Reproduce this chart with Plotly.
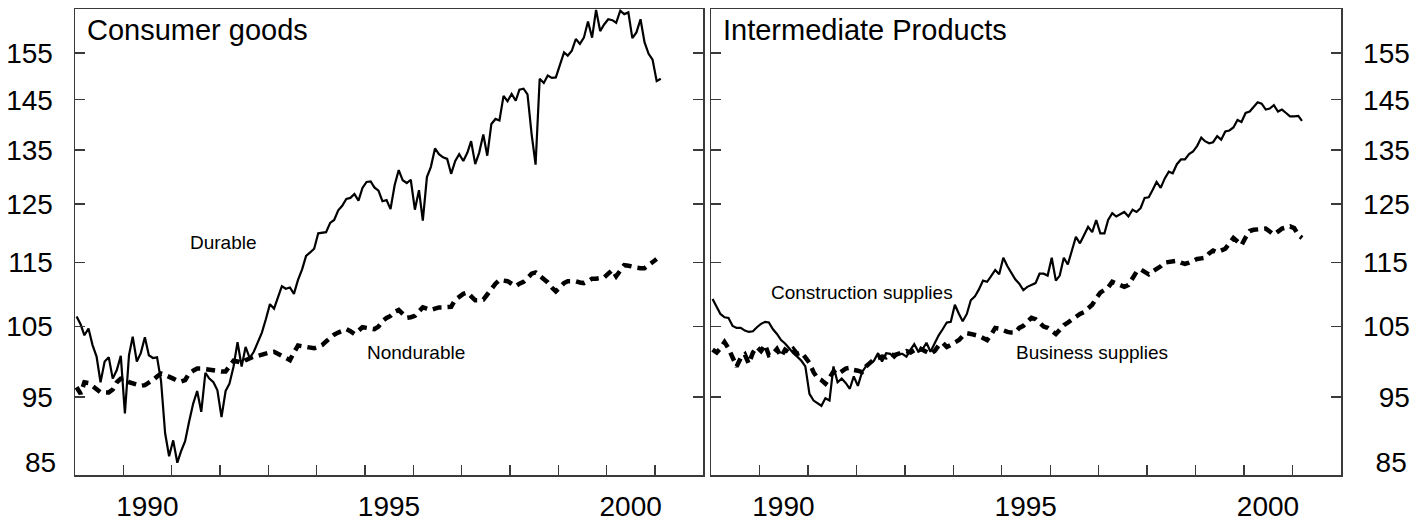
import math
import pandas as pd
import plotly.graph_objects as go

# ---------------- data (monthly index, Jan 1989 onward) ----------------
START = "1989-01-01"

durable = [
    106.5, 105.3, 103.7, 104.7, 102.3, 100.6, 97.0, 99.9, 100.5, 97.5,
    98.7, 100.7, 92.8, 100.8, 103.5, 99.9, 101.1, 103.4, 100.8, 100.4,
    100.5, 97.2, 90.2, 87.3, 89.3, 86.5, 87.9, 89.2, 91.7, 94.1,
    95.8, 93.0, 98.3, 97.5, 97.0, 95.9, 92.3, 95.8, 96.8, 99.2,
    102.7, 99.2, 102.0, 100.4, 101.3, 102.7, 104.1, 106.1, 108.4, 107.7,
    109.2, 111.2, 110.8, 111.0, 110.0, 112.2, 113.9, 116.1, 116.7, 117.3,
    119.9, 120.0, 120.1, 121.7, 122.2, 123.9, 124.7, 125.9, 126.1, 126.8,
    125.6, 127.9, 129.0, 129.1, 128.0, 127.4, 125.5, 125.7, 124.1, 128.4,
    131.2, 129.3, 128.8, 129.4, 124.0, 127.5, 122.1, 129.9, 131.8, 135.3,
    134.2, 133.6, 133.3, 130.5, 132.9, 134.2, 132.9, 134.5, 136.7, 132.3,
    134.5, 138.0, 133.9, 140.1, 141.1, 140.8, 145.8, 144.7, 146.2, 144.8,
    147.1, 147.3, 146.1, 138.1, 132.2, 149.4, 148.5, 150.1, 149.6, 149.7,
    152.3, 155.1, 154.4, 155.5, 158.1, 157.0, 158.4, 162.1, 158.4, 164.8,
    159.9, 161.4, 162.6, 162.4, 161.8, 164.6, 163.8, 164.2, 158.3, 159.6,
    162.6, 157.4, 154.8, 153.5, 148.9, 149.4,
]

nondurable = [
    96.3, 95.4, 97.0, 96.9, 96.5, 96.0, 95.6, 95.6, 95.6, 96.0,
    97.0, 97.5, 97.6, 97.0, 96.8, 96.6, 96.5, 96.6, 96.9, 97.3,
    97.8, 98.2, 98.0, 97.8, 97.5, 97.2, 97.1, 97.3, 98.2, 98.6,
    98.9, 98.9, 98.8, 98.7, 98.6, 98.5, 98.5, 98.5, 99.2, 100.0,
    99.9, 99.7, 100.1, 100.4, 100.6, 100.7, 100.9, 101.1, 101.2, 101.3,
    101.0, 100.7, 100.4, 100.1, 101.2, 102.2, 102.1, 102.0, 101.9, 101.8,
    102.0, 102.3, 102.8, 103.4, 103.8, 104.1, 104.4, 104.6, 104.3, 103.9,
    104.4, 104.9, 104.8, 104.7, 104.6, 105.0, 105.8, 106.3, 106.6, 107.2,
    107.5, 106.9, 106.3, 106.4, 106.6, 107.3, 107.9, 107.7, 107.5, 107.7,
    107.9, 107.9, 107.9, 108.0, 109.1, 109.6, 110.0, 110.2, 109.5, 109.0,
    109.0, 109.1, 109.9, 110.8, 111.6, 112.2, 112.1, 112.0, 111.6, 111.2,
    111.6, 111.9, 112.5, 113.2, 113.4, 112.9, 112.4, 111.8, 111.0, 110.4,
    111.0, 111.7, 112.0, 112.0, 112.0, 111.8, 111.7, 112.0, 112.4, 112.4,
    112.5, 112.6, 113.2, 113.8, 112.8, 113.6, 114.6, 114.5, 114.3, 114.2,
    114.1, 114.1, 114.6, 115.2, 115.6,
]

construction = [
    109.2, 108.0, 106.9, 106.4, 106.3, 105.1, 104.8, 104.8, 104.4, 104.2,
    104.3, 104.9, 105.4, 105.7, 105.6, 104.6, 103.9, 103.0, 102.5, 101.8,
    101.1, 100.6, 100.0, 99.2, 95.4, 94.5, 94.2, 93.8, 94.8, 94.5,
    99.2, 97.0, 97.5, 96.9, 96.1, 97.8, 96.5, 98.4, 99.2, 99.6,
    100.0, 101.1, 99.9, 101.1, 101.0, 100.4, 101.0, 101.0, 100.6, 101.6,
    102.4, 101.3, 101.6, 102.6, 101.3, 102.5, 103.7, 104.6, 105.6, 105.7,
    108.3, 106.9, 105.8, 106.9, 109.0, 109.6, 110.7, 112.1, 111.9, 112.8,
    113.8, 113.1, 115.8, 114.4, 113.3, 112.3, 111.6, 110.6, 111.1, 111.4,
    111.7, 113.2, 113.2, 112.9, 115.8, 112.1, 112.9, 115.8, 114.7, 117.0,
    119.3, 118.2, 119.6, 121.0, 120.1, 122.2, 119.9, 119.9, 122.2, 123.4,
    122.8, 123.2, 123.6, 122.8, 124.0, 123.6, 124.3, 126.1, 126.2, 127.6,
    129.0, 127.9, 129.6, 130.9, 130.6, 132.3, 133.2, 133.2, 134.2, 134.7,
    135.8, 137.4, 136.7, 136.3, 136.5, 137.7, 137.0, 138.6, 138.8, 139.4,
    140.9, 140.5, 142.3, 142.6, 143.5, 144.5, 144.2, 143.0, 143.2, 143.9,
    142.6, 143.0, 142.3, 141.6, 141.6, 141.7, 140.7,
]

business = [
    101.6, 101.2, 101.8, 102.7, 101.8, 100.6, 99.2, 100.4, 100.9, 99.6,
    101.2, 102.0, 101.4, 102.3, 100.8, 101.0, 101.7, 100.6, 101.6, 101.2,
    101.7, 101.0, 101.2, 100.5, 99.7, 98.4, 97.6, 97.3, 96.8, 97.6,
    98.5, 98.1, 98.6, 98.9, 99.0, 98.7, 98.6, 98.4, 99.2, 99.8,
    100.2, 100.4, 100.6, 100.5, 100.9, 100.8, 101.0, 101.3, 101.4, 101.2,
    101.6, 101.9, 101.6, 101.3, 101.0, 101.4, 102.2, 102.6, 102.0, 102.3,
    102.7, 103.0, 103.6, 104.0, 103.9, 103.8, 103.6, 103.3, 103.0, 103.8,
    104.8, 104.7, 104.4, 104.2, 104.1, 104.1, 104.8, 105.1, 105.7, 106.3,
    106.1, 105.5, 105.0, 104.8, 104.3, 103.9, 104.5, 105.2, 105.6, 106.1,
    106.6, 106.9, 107.2, 107.7, 108.3, 109.3, 110.2, 110.6, 111.0, 111.9,
    111.6, 111.3, 111.1, 111.4, 112.5, 113.5, 113.9, 113.6, 113.1, 113.6,
    113.9, 114.4, 115.0, 115.1, 115.2, 115.3, 115.0, 114.8, 115.0, 115.3,
    115.6, 115.7, 115.8, 116.5, 117.0, 116.7, 117.0, 117.3, 118.2, 119.1,
    118.5, 117.9, 119.2, 120.3, 120.5, 120.6, 120.7, 120.7, 120.2, 119.7,
    120.2, 120.7, 120.9, 121.1, 120.8, 119.6, 119.1,
]

tick_years = list(range(1990, 2002))
labelled_years = [1990, 1995, 2000]
ytick_values = [85, 95, 105, 115, 125, 135, 145, 155, 165]
ytick_text = ["", "95", "105", "115", "125", "135", "145", "155", ""]
panel_titles = ["Consumer goods", "Intermediate Products"]
series_names = ["Durable", "Nondurable", "Construction supplies", "Business supplies"]

NBSP2 = "\u00a0\u00a0"  # two spaces = width of one digit -> right-aligned labels


def months(n):
    d = pd.date_range(START, periods=n, freq="MS") + pd.Timedelta(days=12)
    return [x.strftime("%Y-%m-%d") for x in d]


def right_aligned(labels):
    return [(NBSP2 + t) if len(t) == 2 else t for t in labels]


FONT = "Liberation Sans, Arial, sans-serif"
AX = "#3a3a3a"
SOLID = dict(color="black", width=2.2)
DASHED = dict(color="black", width=4.5, dash="9px,6px")

fig = go.Figure()
fig.add_trace(go.Scatter(x=months(len(durable)), y=durable, mode="lines",
                         line=SOLID, name=series_names[0], xaxis="x", yaxis="y"))
fig.add_trace(go.Scatter(x=months(len(nondurable)), y=nondurable, mode="lines",
                         line=DASHED, name=series_names[1], xaxis="x", yaxis="y"))
fig.add_trace(go.Scatter(x=months(len(construction)), y=construction, mode="lines",
                         line=SOLID, name=series_names[2], xaxis="x2", yaxis="y2"))
fig.add_trace(go.Scatter(x=months(len(business)), y=business, mode="lines",
                         line=DASHED, name=series_names[3], xaxis="x2", yaxis="y2"))

W, H = 1424, 523
ML, MR, MT, MB = 75, 83, 9, 48
plot_w = W - ML - MR
left_dom = [0, 628.4 / plot_w]
right_dom = [636.0 / plot_w, 1]

xcommon = dict(
    type="date", range=["1989-01-01", "2002-01-01"], automargin=False,
    tickmode="array", tickvals=[f"{y}-01-01" for y in tick_years],
    ticktext=[str(y) if y in labelled_years else "" for y in tick_years],
    ticks="inside", ticklen=10, tickwidth=1.3, tickcolor=AX,
    ticklabelshift=24, ticklabelstandoff=6,
    showgrid=False, zeroline=False,
    showline=True, linecolor=AX, linewidth=1.5, mirror=True,
    tickfont=dict(family=FONT, size=28, color="black"),
)
ycommon = dict(
    type="log", range=[math.log10(85), math.log10(165)], automargin=False,
    tickmode="array", tickvals=ytick_values,
    ticks="inside", ticklen=10, tickwidth=1.3, tickcolor=AX,
    showgrid=False, zeroline=False,
    showline=True, linecolor=AX, linewidth=1.5, mirror="ticks",
    tickfont=dict(family=FONT, size=28, color="black"),
    ticklabelstandoff=15,
)

fig.update_layout(
    width=W, height=H, autosize=False,
    margin=dict(l=ML, r=MR, t=MT, b=MB, pad=0, autoexpand=False),
    paper_bgcolor="white", plot_bgcolor="white",
    showlegend=False, hovermode=False,
    xaxis=dict(domain=left_dom, anchor="y", **xcommon),
    xaxis2=dict(domain=right_dom, anchor="y2", **xcommon),
    yaxis=dict(anchor="x", side="left", ticktext=ytick_text, **ycommon),
    yaxis2=dict(anchor="x2", side="right", ticktext=right_aligned(ytick_text), **ycommon),
)

ann = []
for i, t in enumerate(panel_titles):
    sfx = "" if i == 0 else "2"
    ann.append(dict(text=t, xref=f"x{sfx} domain", yref=f"y{sfx} domain",
                    x=0, y=0.956, xanchor="left", yanchor="middle", xshift=10,
                    showarrow=False, font=dict(family=FONT, size=29, color="black")))
label_pos = [("x domain", "y domain", 0.2362, 0.500),
             ("x domain", "y domain", 0.5422, 0.2633),
             ("x2 domain", "y2 domain", 0.2394, 0.3927),
             ("x2 domain", "y2 domain", 0.6049, 0.2639)]
for name, (xr, yr, xx, yy) in zip(series_names, label_pos):
    ann.append(dict(text=name, xref=xr, yref=yr, x=xx, y=yy,
                    xanchor="center", yanchor="middle", showarrow=False,
                    font=dict(family=FONT, size=19, color="black")))
ann.append(dict(text="85", xref="x domain", yref="y", x=0, y=math.log10(85),
                xanchor="right", yanchor="middle", xshift=-17, yshift=13,
                showarrow=False, font=dict(family=FONT, size=28, color="black")))
ann.append(dict(text=NBSP2 + "85", xref="x2 domain", yref="y2", x=1, y=math.log10(85),
                xanchor="left", yanchor="middle", xshift=17, yshift=13,
                showarrow=False, font=dict(family=FONT, size=28, color="black")))
fig.update_layout(annotations=ann)

# remove the default page margin so the figure fills the window exactly
fig.write_html("out.html",
               config={"displayModeBar": False, "staticPlot": True},
               post_script="document.body.style.margin='0px';document.body.style.overflow='hidden';")
